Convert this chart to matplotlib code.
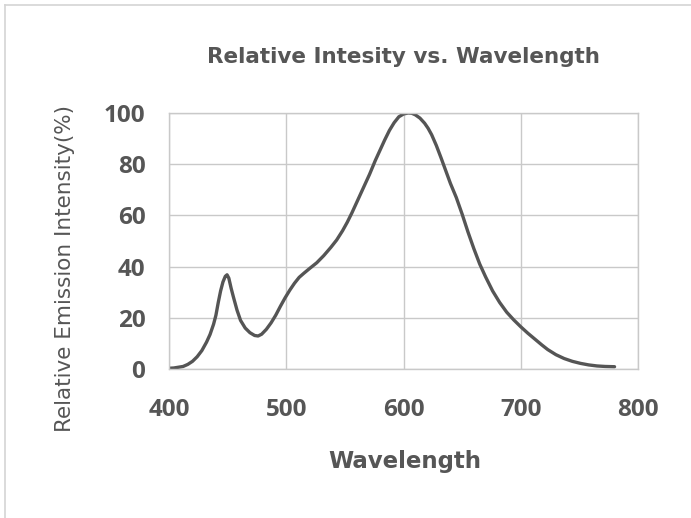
import matplotlib
matplotlib.use("Agg")
import matplotlib.pyplot as plt
from matplotlib.lines import Line2D

# spectrum
wavelength = [400, 404, 408, 412, 416, 420, 424, 428, 432, 435, 438, 440, 442, 444, 446,
              448, 449.5, 451, 453, 455, 458, 461, 465, 469, 473, 476, 479, 483, 487,
              491, 495, 499, 503, 507, 511, 515, 520, 526, 532, 538, 543, 548, 552,
              556, 561, 566, 571, 576, 580, 584, 588, 592, 596, 600, 604, 607, 610,
              614, 618, 621, 624, 628, 632, 636, 640, 645, 650, 655, 660, 665, 670,
              676, 682, 688, 694, 700, 706, 712, 718, 723, 730, 737, 744, 751, 758,
              765, 772, 780]
intensity = [0.3, 0.4, 0.7, 1.0, 1.8, 3.0, 4.8, 7.2, 10.5, 13.5, 17.5, 21.0, 26.0, 30.5, 34.0,
             36.2, 36.8, 35.5, 31.5, 28.0, 23.0, 19.0, 16.0, 14.2, 13.1, 12.9, 13.6, 15.5, 18.0,
             21.0, 24.5, 27.8, 30.8, 33.5, 35.8, 37.4, 39.3, 41.5, 44.3, 47.5, 50.4, 54.0, 57.3,
             61.0, 66.0, 71.0, 76.0, 81.5, 85.5, 89.5, 93.2, 96.2, 98.5, 99.6, 100.0, 99.9, 99.3,
             98.0, 96.0, 94.0, 91.5, 87.3, 82.5, 77.5, 72.5, 67.0, 60.5, 53.5, 47.0, 41.0, 36.0,
             30.5, 26.0, 22.2, 19.2, 16.5, 14.0, 11.7, 9.4, 7.6, 5.6, 4.1, 3.0, 2.2, 1.6,
             1.2, 1.0, 0.9]

x_ticks = [400, 500, 600, 700, 800]
y_ticks = [0, 20, 40, 60, 80, 100]

TEXT = "#565656"
GRID = "#c9c9c9"
LINE = "#555555"

plt.rcParams["font.family"] = ["DejaVu Sans"]

fig = plt.figure(figsize=(6.91, 5.18), dpi=100)
ax = fig.add_axes([0.2446, 0.2876, 0.6787, 0.4943])

ax.plot(wavelength, intensity, color=LINE, lw=2.4, solid_capstyle="round",
        solid_joinstyle="round")

ax.set_xlim(400, 800)
ax.set_ylim(0, 100)
ax.set_xticks(x_ticks)
ax.set_yticks(y_ticks)
ax.grid(True, color=GRID, lw=1.0)
ax.set_axisbelow(True)
for s in ax.spines.values():
    s.set_color(GRID)
    s.set_linewidth(1.0)
ax.tick_params(length=0, labelsize=17.5, labelcolor=TEXT)
for lab in ax.get_xticklabels() + ax.get_yticklabels():
    lab.set_fontfamily(["Open Sans", "DejaVu Sans"])
    lab.set_fontweight("bold")
ax.tick_params(axis="x", pad=21)
ax.tick_params(axis="y", pad=17)

fig.text(0.584, 0.89, "Relative Intesity vs. Wavelength", ha="center", va="center",
         fontsize=15.5, fontweight="bold", color=TEXT)
fig.text(0.5855, 0.110, "Wavelength", ha="center", va="center",
         fontsize=16.5, fontweight="bold", color=TEXT)
fig.text(0.094, 0.482, "Relative Emission Intensity(%)", ha="center", va="center",
         rotation=90, fontsize=15.5, color=TEXT)

# thin frame round the picture (top and left edges show)
fig.add_artist(Line2D([0.007, 1.0], [0.990, 0.990], color="#d4d4d4", lw=1.2,
                      transform=fig.transFigure))
fig.add_artist(Line2D([0.007, 0.007], [0.0, 0.990], color="#d4d4d4", lw=1.2,
                      transform=fig.transFigure))

fig.savefig("out.png", dpi=100)
